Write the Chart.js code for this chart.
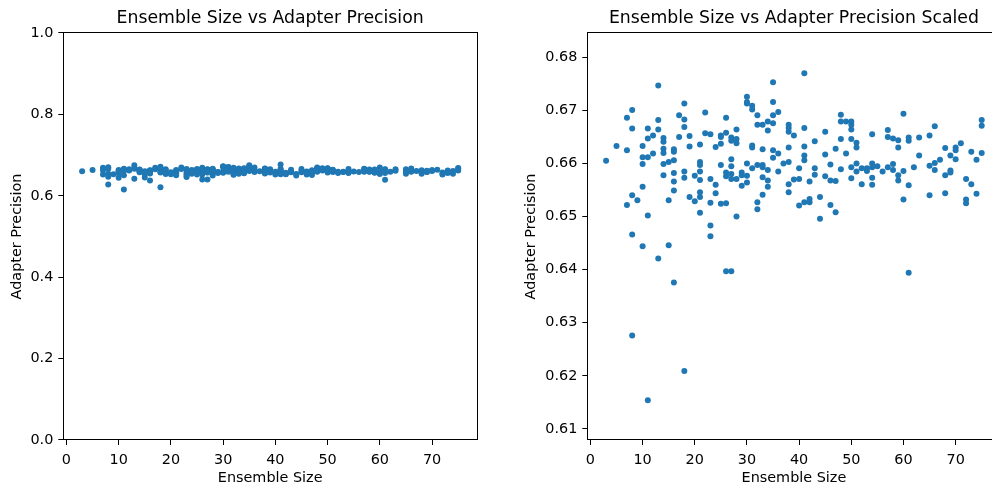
<!DOCTYPE html>
<html>
<head>
<meta charset="utf-8">
<script src="https://cdn.jsdelivr.net/npm/chart.js@4"></script>
<style>
  html, body { margin: 0; padding: 0; background: #fff; overflow: hidden; }
  #wrap { position: relative; width: 992px; height: 486px; overflow: hidden; }
  #left { position: absolute; left: 0; top: 0; }
  #right { position: absolute; left: 500px; top: 0; }
</style>
</head>
<body>
<div id="wrap">
  <canvas id="left" width="500" height="486"></canvas>
  <canvas id="right" width="510" height="486"></canvas>
</div>
<script>
// data (same points in both panels)
const ensembleSizes = [
  3, 5, 7, 7, 7, 8, 8, 8, 8, 8, 9,
  10, 10, 10, 10, 10, 11, 11, 11, 11, 11, 12, 12,
  13, 13, 13, 13, 14, 14, 14, 14, 14, 14, 15, 15, 15,
  16, 16, 16, 16, 16, 16, 16, 17, 17, 18, 18, 18, 18, 18, 18,
  19, 19, 19, 20, 20, 21, 21, 21, 21, 21, 21, 21, 21, 22, 22,
  23, 23, 23, 23, 23, 24, 24, 24, 25, 25, 25, 25, 25,
  26, 26, 26, 26, 26, 26, 27, 27, 27, 27, 27, 27, 27,
  28, 28, 28, 28, 28, 29, 29, 29, 30, 30, 30, 30, 30, 30,
  31, 31, 31, 31, 31, 32, 32, 32, 32, 32, 33, 33, 33, 33, 33, 33,
  34, 34, 34, 34, 34, 35, 35, 35, 35, 35, 35, 36, 36, 36, 37,
  38, 38, 38, 38, 38, 38, 38, 39, 39, 40, 40, 40,
  41, 41, 41, 41, 41, 41, 42, 42, 42, 43, 43, 43, 44, 44,
  45, 45, 45, 46, 46, 46, 47, 47, 47, 48, 48, 48, 48, 49, 49,
  50, 50, 50, 50, 50, 50, 51, 51, 51, 51, 52, 52, 53, 53,
  54, 54, 54, 54, 54, 55, 56, 57, 57, 57, 58, 58, 58,
  59, 59, 59, 59, 60, 60, 60, 61, 61, 61, 61, 62, 63, 63,
  65, 65, 65, 66, 66, 66, 67, 68, 68, 68, 69, 69, 69,
  70, 70, 70, 71, 72, 72, 72, 73, 73, 74, 74, 75, 75, 75
];
const precisions = [
  0.6605, 0.6633, 0.6686, 0.6625, 0.6522, 0.6701, 0.6666, 0.6540, 0.6466, 0.6276, 0.6531,
  0.6633, 0.6612, 0.6599, 0.6556, 0.6444, 0.6666, 0.6647, 0.6612, 0.6502, 0.6154, 0.6653, 0.6619,
  0.6747, 0.6682, 0.6664, 0.6421, 0.6648, 0.6641, 0.6628, 0.6620, 0.6599, 0.6578, 0.6603, 0.6531, 0.6446,
  0.6627, 0.6622, 0.6606, 0.6582, 0.6566, 0.6549, 0.6376, 0.6691, 0.6650, 0.6713, 0.6683, 0.6669, 0.6585, 0.6573, 0.6209,
  0.6652, 0.6632, 0.6537, 0.6577, 0.6529, 0.6636, 0.6603, 0.6597, 0.6585, 0.6569, 0.6546, 0.6537, 0.6507, 0.6696, 0.6657,
  0.6655, 0.6571, 0.6526, 0.6483, 0.6463, 0.6631, 0.6560, 0.6544, 0.6653, 0.6650, 0.6637, 0.6597, 0.6524,
  0.6686, 0.6658, 0.6583, 0.6576, 0.6525, 0.6397, 0.6649, 0.6643, 0.6608, 0.6595, 0.6580, 0.6571, 0.6397,
  0.6664, 0.6646, 0.6638, 0.6571, 0.6500, 0.6583, 0.6578, 0.6558, 0.6726, 0.6716, 0.6713, 0.6600, 0.6577, 0.6564,
  0.6709, 0.6702, 0.6634, 0.6630, 0.6591, 0.6691, 0.6673, 0.6597, 0.6527, 0.6514, 0.6673, 0.6627, 0.6597, 0.6593, 0.6574, 0.6541,
  0.6679, 0.6662, 0.6588, 0.6568, 0.6556, 0.6753, 0.6716, 0.6691, 0.6676, 0.6625, 0.6611, 0.6697, 0.6619, 0.6585, 0.6600,
  0.6673, 0.6667, 0.6660, 0.6630, 0.6603, 0.6561, 0.6546, 0.6653, 0.6570, 0.6591, 0.6571, 0.6521,
  0.6770, 0.6667, 0.6632, 0.6615, 0.6606, 0.6527, 0.6566, 0.6533, 0.6527, 0.6642, 0.6591, 0.6579, 0.6537, 0.6496,
  0.6660, 0.6617, 0.6576, 0.6598, 0.6568, 0.6522, 0.6628, 0.6567, 0.6508, 0.6692, 0.6679, 0.6646, 0.6589, 0.6679, 0.6619,
  0.6679, 0.6673, 0.6664, 0.6646, 0.6593, 0.6572, 0.6639, 0.6630, 0.6600, 0.6585, 0.6591, 0.6561, 0.6591, 0.6586,
  0.6655, 0.6600, 0.6593, 0.6573, 0.6560, 0.6595, 0.6585, 0.6663, 0.6650, 0.6593, 0.6647, 0.6599, 0.6588,
  0.6644, 0.6630, 0.6578, 0.6568, 0.6694, 0.6586, 0.6532, 0.6649, 0.6643, 0.6559, 0.6394, 0.6593, 0.6649, 0.6615,
  0.6653, 0.6596, 0.6540, 0.6670, 0.6601, 0.6588, 0.6607, 0.6629, 0.6578, 0.6544, 0.6615, 0.6587, 0.6583,
  0.6630, 0.6625, 0.6608, 0.6638, 0.6571, 0.6532, 0.6525, 0.6622, 0.6561, 0.6607, 0.6543, 0.6682, 0.6671, 0.6620
];

const xTicks = [0, 10, 20, 30, 40, 50, 60, 70];
const yTicksFull = [0.0, 0.2, 0.4, 0.6, 0.8, 1.0];
const yTicksScaled = [0.61, 0.62, 0.63, 0.64, 0.65, 0.66, 0.67, 0.68];

Chart.defaults.font.family = "'DejaVu Sans', sans-serif";
Chart.defaults.color = '#000';

const points = ensembleSizes.map((x, i) => ({ x: x, y: precisions[i] }));

function spine(pos) {
  return {
    position: pos,
    display: true,
    ticks: { display: false },
    grid: { drawOnChartArea: false, drawTicks: false },
    border: { display: true, color: '#000', width: 1 },
    afterFit: s => { if (pos === 'top') s.height = 0; else s.width = 0; }
  };
}

function makeChart(id, cfg) {
  new Chart(document.getElementById(id), {
    type: 'scatter',
    data: {
      datasets: [{
        data: points,
        backgroundColor: '#1f77b4',
        borderWidth: 0,
        pointRadius: 3,
        pointHoverRadius: 3
      }]
    },
    options: {
      responsive: false,
      animation: false,
      devicePixelRatio: 1,
      events: [],
      layout: { padding: { left: 0, right: cfg.rightPad, top: 0, bottom: 0 } },
      plugins: {
        legend: { display: false },
        tooltip: { enabled: false },
        title: {
          display: true,
          text: cfg.title,
          fullSize: false,
          color: '#000',
          font: { size: 17.3, weight: 'normal' },
          padding: { top: 8.6, bottom: 3.6 }
        }
      },
      scales: {
        x: {
          type: 'linear',
          min: -0.6,
          max: 78.6,
          afterBuildTicks: s => { s.ticks = xTicks.map(v => ({ value: v })); },
          afterFit: s => { s.height = 46; },
          ticks: { font: { size: 14.4 }, color: '#000', padding: 6.5 },
          grid: { drawOnChartArea: false, drawTicks: true, tickLength: 5, tickColor: '#000' },
          border: { display: true, color: '#000', width: 1 },
          title: { display: true, text: 'Ensemble Size', font: { size: 14.4 }, color: '#000', padding: { top: 0, bottom: -0.8 } }
        },
        y: {
          type: 'linear',
          min: cfg.yMin,
          max: cfg.yMax,
          afterBuildTicks: s => { s.ticks = cfg.yTicks.map(v => ({ value: v })); },
          afterFit: s => { s.width = cfg.yWidth; },
          ticks: {
            font: { size: 14.4 }, color: '#000', padding: 5,
            callback: v => Number(v).toFixed(cfg.decimals)
          },
          grid: { drawOnChartArea: false, drawTicks: true, tickLength: 5, tickColor: '#000' },
          border: { display: true, color: '#000', width: 1 },
          title: { display: true, text: 'Adapter Precision', font: { size: 14.4 }, color: '#000', padding: { top: cfg.yTitlePad, bottom: 0 } }
        },
        xTop: spine('top'),
        yRight: spine('right')
      }
    }
  });
}

makeChart('left', {
  title: 'Ensemble Size vs Adapter Precision',
  yMin: 0, yMax: 1, yTicks: yTicksFull, decimals: 1,
  yWidth: 63.3, yTitlePad: 8.4, rightPad: 23
});

makeChart('right', {
  title: 'Ensemble Size vs Adapter Precision Scaled',
  yMin: 0.6079, yMax: 0.6846, yTicks: yTicksScaled, decimals: 2,
  yWidth: 87.3, yTitlePad: 22.4, rightPad: 9.5
});
</script>
</body>
</html>
